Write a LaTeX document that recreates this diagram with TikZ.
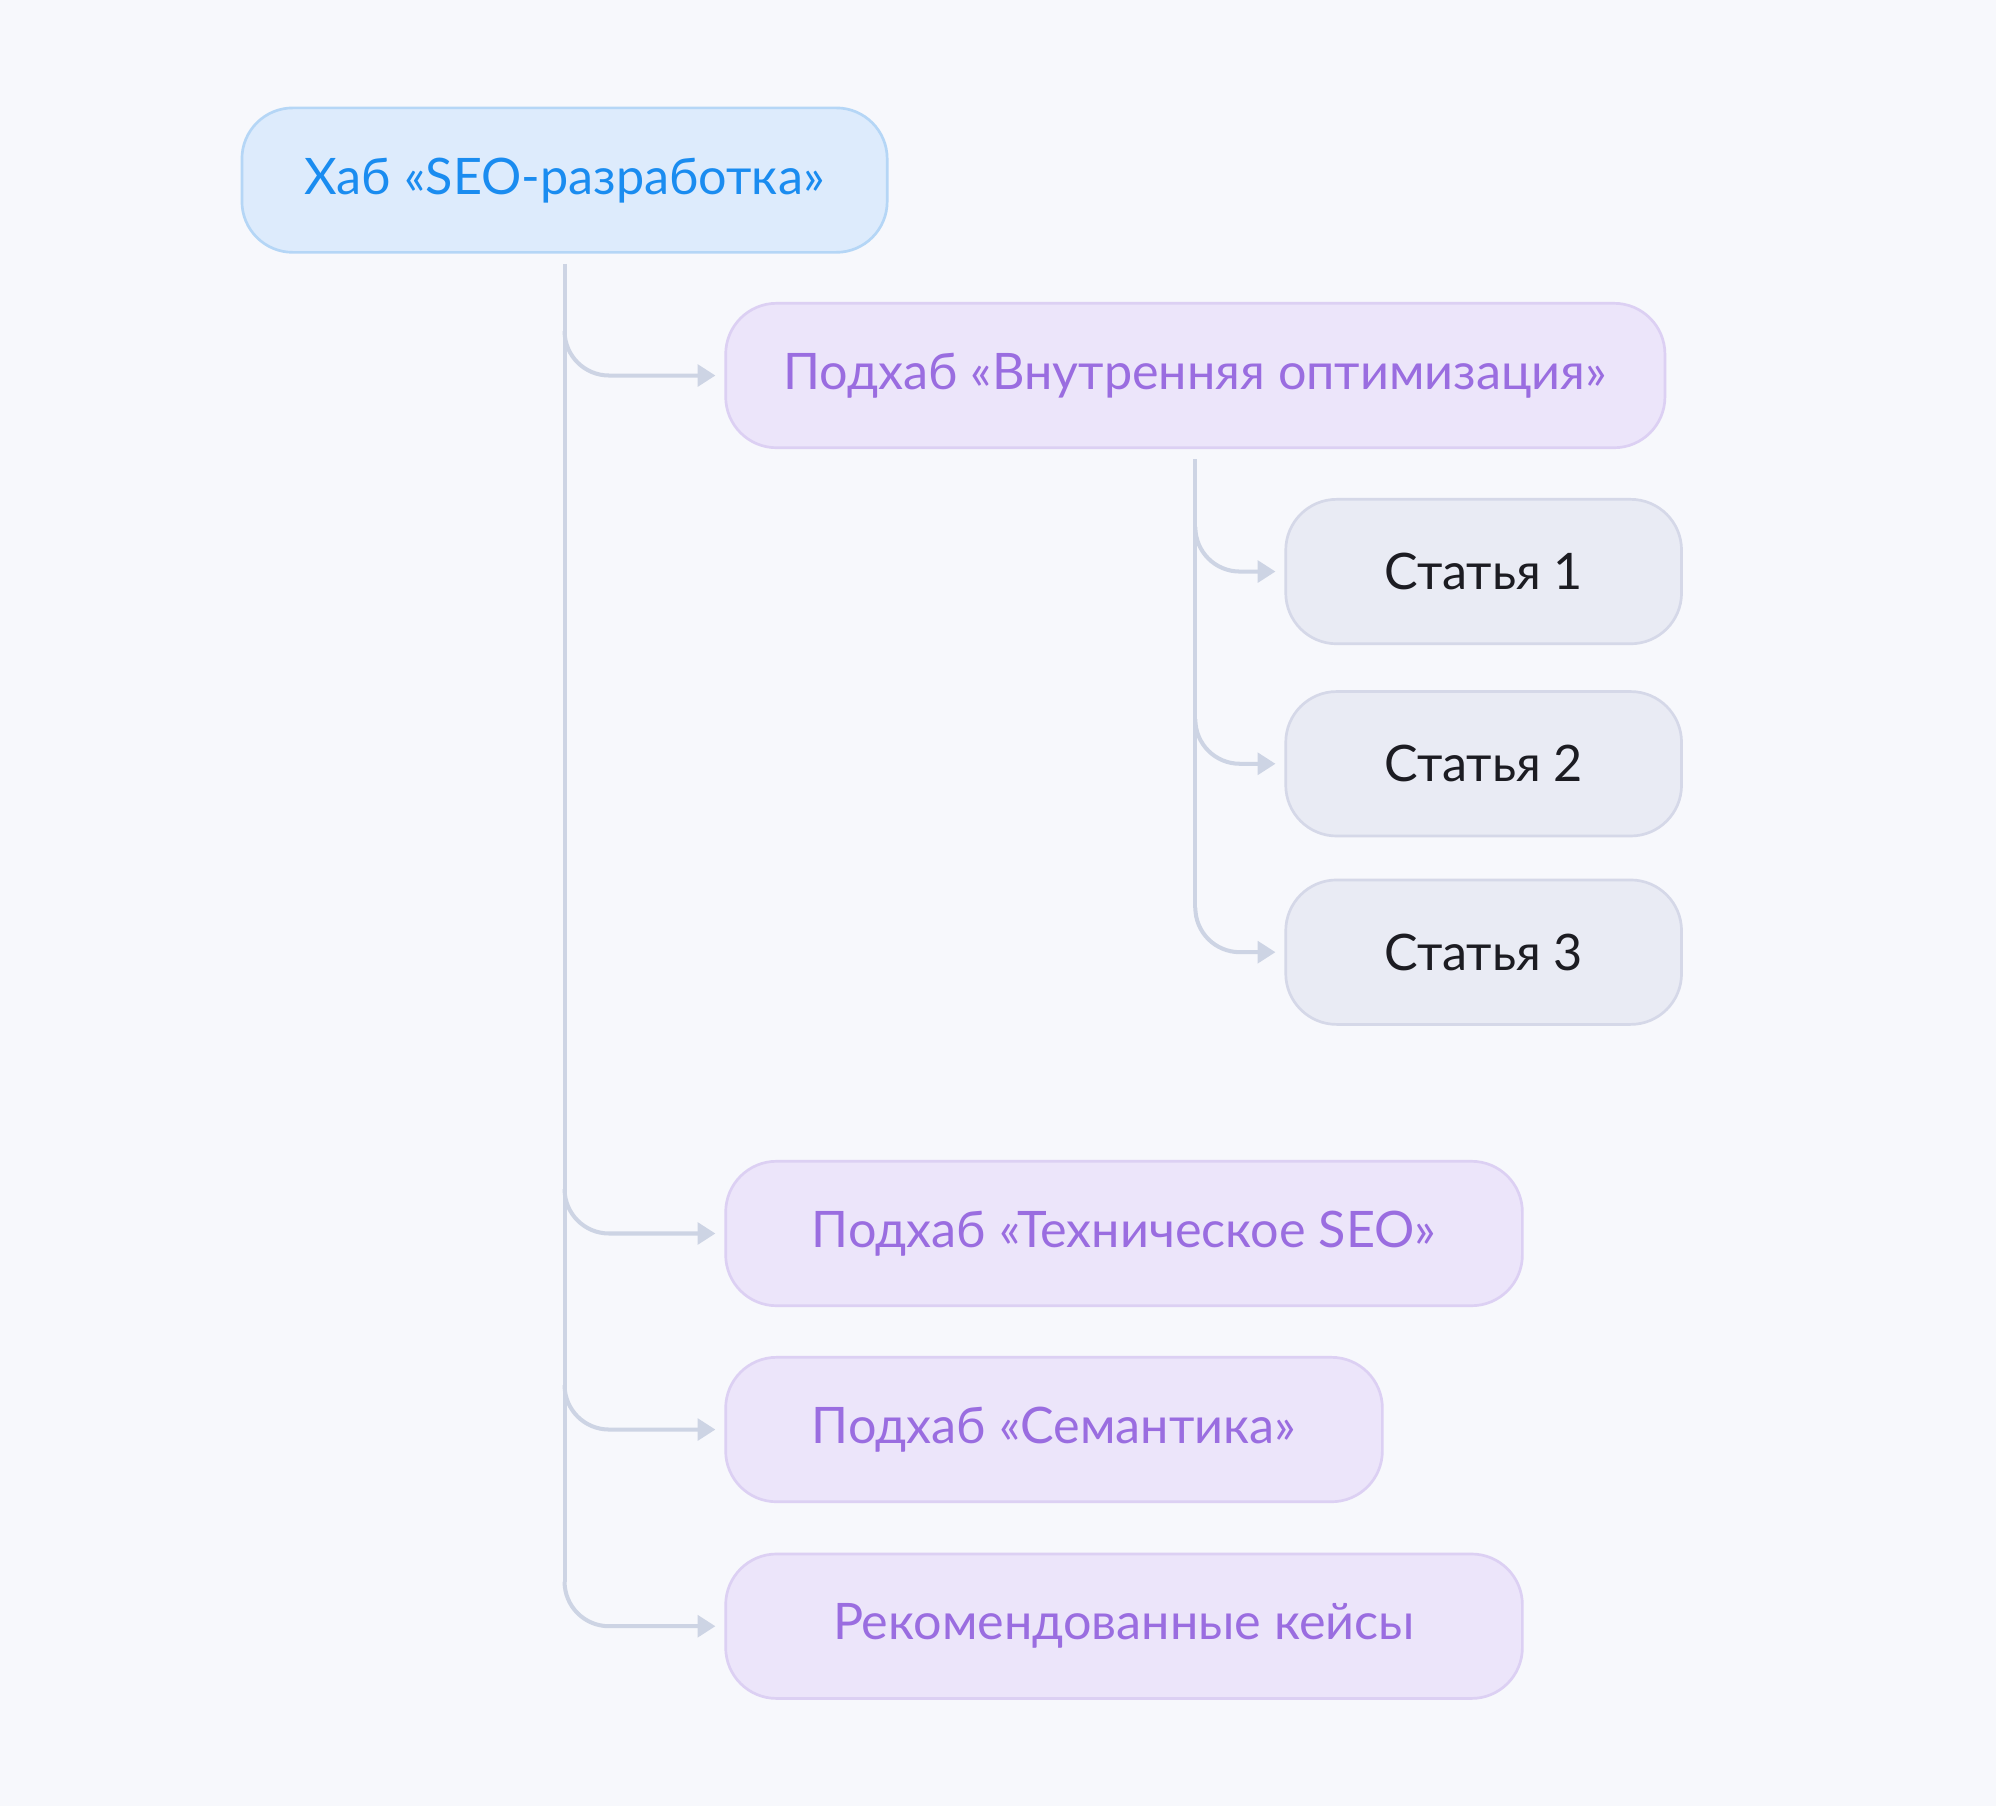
\documentclass[tikz,border=0pt]{standalone}
\usepackage{fontspec}
\setmainfont{Lato}
\usetikzlibrary{arrows.meta,calc}
\definecolor{bgc}{HTML}{F7F8FC}
\definecolor{hubfill}{HTML}{DDEBFC}
\definecolor{hubdraw}{HTML}{B5D6F6}
\definecolor{hubtext}{HTML}{1A8CF0}
\definecolor{subfill}{HTML}{ECE5FA}
\definecolor{subdraw}{HTML}{DCD0F3}
\definecolor{subtext}{HTML}{9A6DE0}
\definecolor{artfill}{HTML}{E9EBF4}
\definecolor{artdraw}{HTML}{D5D8E8}
\definecolor{arttext}{HTML}{1C1C22}
\definecolor{linkc}{HTML}{CDD4E4}
\tikzset{
  box/.style={rectangle, rounded corners=0.8cm, line width=1.2pt, minimum height=2.27cm, inner sep=0pt, font=\fontsize{22.5}{27}\selectfont},
  hubbox/.style={box, fill=hubfill, draw=hubdraw, text=hubtext},
  subbox/.style={box, fill=subfill, draw=subdraw, text=subtext},
  artbox/.style={box, fill=artfill, draw=artdraw, text=arttext},
  link/.style={draw=linkc, line width=1.8pt},
  arrowlink/.style={link, -{Triangle[length=0.28cm,width=0.34cm]}},
}
\begin{document}
\begin{tikzpicture}[x=0.02cm,y=-0.02cm]
\fill[bgc] (0,0) rectangle (1568,1419);
\useasboundingbox (0,0) rectangle (1568,1419);
\node[hubbox, minimum width=10.14cm] (hub) at (443.5,141.5) {Хаб «SEO-разработка»};
\node[subbox, minimum width=14.76cm] (sub1) at (939,295) {Подхаб «Внутренняя оптимизация»};
\node[artbox, minimum width=6.22cm] (art1) at (1165.5,449) {Статья 1};
\node[artbox, minimum width=6.22cm] (art2) at (1165.5,600) {Статья 2};
\node[artbox, minimum width=6.22cm] (art3) at (1165.5,748) {Статья 3};
\node[subbox, minimum width=12.52cm] (sub2) at (883,969) {Подхаб «Техническое SEO»};
\node[subbox, minimum width=10.32cm] (sub3) at (828,1123) {Подхаб «Семантика»};
\node[subbox, minimum width=12.52cm] (sub4) at (883,1277.5) {Рекомендованные кейсы};
% main trunk
\draw[link] ($(hub.south)+(0,8)$) -- ($(hub.south |- sub4.west)+(0,-35)$);
\foreach \t in {sub1,sub2,sub3,sub4}{
  \draw[arrowlink] ($(hub.south |- \t.west)+(0,-35)$) to[out=-90,in=180] ($(hub.south |- \t.west)+(35,0)$) -- ($(\t.west)+(-7,0)$);
}
% second trunk
\draw[link] ($(sub1.south)+(0,8)$) -- ($(sub1.south |- art3.west)+(0,-35)$);
\foreach \t in {art1,art2,art3}{
  \draw[arrowlink] ($(sub1.south |- \t.west)+(0,-35)$) to[out=-90,in=180] ($(sub1.south |- \t.west)+(35,0)$) -- ($(\t.west)+(-7,0)$);
}
\end{tikzpicture}
\end{document}
